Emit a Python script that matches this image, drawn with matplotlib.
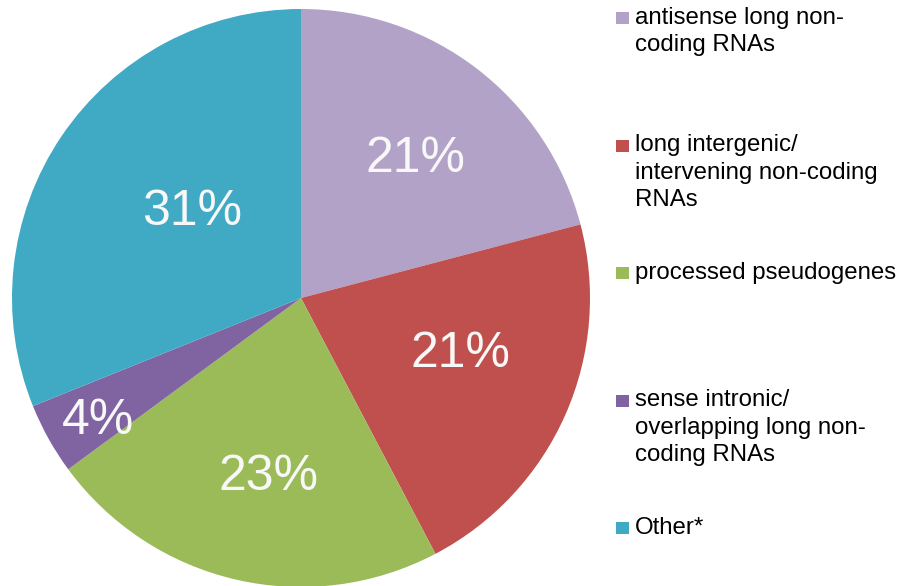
import matplotlib.pyplot as plt
import matplotlib.transforms as mtransforms
import numpy as np
from matplotlib.patches import Rectangle

plt.rcParams['font.family'] = ['Liberation Sans', 'DejaVu Sans']

# data
labels = ['antisense long non-\ncoding RNAs',
          'long intergenic/\nintervening non-coding\nRNAs',
          'processed pseudogenes',
          'sense intronic/\noverlapping long non-\ncoding RNAs',
          'Other*']
shares = [20.9, 21.4, 22.6, 4.0, 31.1]
colors = ['#B3A2C7', '#C0504D', '#9BBB59', '#8064A2', '#40AAC4']

# label placement per slice: distance from centre and angle nudge (deg)
pct_dist = [0.633, 0.58, 0.617, 0.815, 0.49]
ang_nudge = [-1.0, 5.8, 2.4, 1.2, -5.5]

W, H = 904, 586
fig = plt.figure(figsize=(W / 100, H / 100), dpi=100)

cx, cy, r = 301, 298, 289
ax = fig.add_axes([(cx - r) / W, (H - cy - r) / H, 2 * r / W, 2 * r / H])
wedges, _ = ax.pie(shares, colors=colors, startangle=90, counterclock=False,
                   radius=1, wedgeprops=dict(linewidth=0))
ax.set_xlim(-1, 1)
ax.set_ylim(-1, 1)
ax.set_aspect('equal')
ax.axis('off')

# text bbox includes descent, shift down a bit so the digits sit centred
tr = mtransforms.offset_copy(ax.transData, fig=fig, x=0, y=-4, units='dots')
for w, v, d, n in zip(wedges, shares, pct_dist, ang_nudge):
    ang = np.deg2rad((w.theta1 + w.theta2) / 2 + n)
    ax.text(d * np.cos(ang), d * np.sin(ang), '%.0f%%' % v, transform=tr,
            ha='center', va='center', color='#F8F8F8', fontsize=36)

# legend drawn by hand so the square sits on the first line
x_box, x_txt = 616, 635
y0, step = 18, 127.5
for i, (lab, c) in enumerate(zip(labels, colors)):
    y = y0 + step * i
    fig.patches.append(Rectangle((x_box / W, 1 - (y + 6) / H), 13 / W, 12 / H,
                                 transform=fig.transFigure, facecolor=c,
                                 edgecolor='none'))
    fig.text(x_txt / W, 1 - (y - 11) / H, lab, ha='left', va='top',
             fontsize=17.3, color='black', linespacing=1.3)

fig.savefig('out.png', dpi=100, facecolor='white')
